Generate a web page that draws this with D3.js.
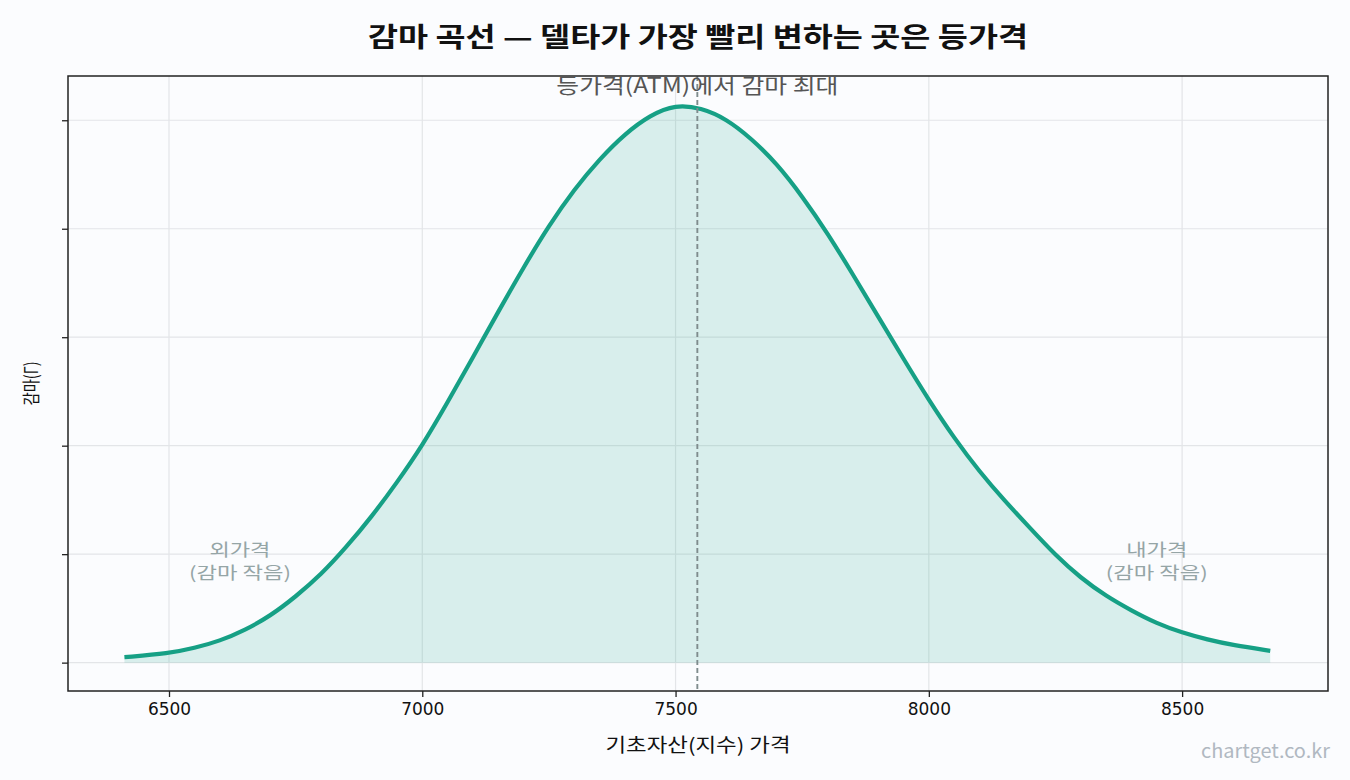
<!DOCTYPE html>
<html>
<head>
<meta charset="utf-8">
<script src="https://cdn.jsdelivr.net/npm/d3@7"></script>
<style>
  body { margin: 0; background: #fbfcfe; }
  svg { display: block; font-family: "Noto Sans CJK KR", "DejaVu Sans", sans-serif; }
</style>
</head>
<body>
<div id="chart"></div>
<script>
// underlying index price
const spotPrices = [6412, 6500, 6550, 6600, 6650, 6700, 6750, 6800, 6850, 6900, 6950,
  7000, 7050, 7100, 7150, 7200, 7250, 7300, 7350, 7400, 7450, 7500, 7550, 7600, 7650,
  7700, 7750, 7800, 7850, 7900, 7950, 8000, 8050, 8100, 8150, 8200, 8250, 8300, 8350,
  8400, 8450, 8500, 8550, 8600, 8674];
// gamma (arbitrary units, the source hides the y tick labels)
const gammaValues = [0.05, 0.085, 0.134, 0.199, 0.30, 0.43, 0.608, 0.81, 1.064, 1.345, 1.66,
  2.0, 2.40, 2.815, 3.235, 3.645, 4.03, 4.364, 4.643, 4.876, 5.049, 5.145, 5.115, 5.014, 4.83,
  4.60, 4.30, 3.96, 3.58, 3.19, 2.80, 2.42, 2.07, 1.76, 1.49, 1.24, 0.99, 0.78, 0.613,
  0.48, 0.361, 0.276, 0.212, 0.161, 0.109];
const strike = 7543;
const xTicks = [6500, 7000, 7500, 8000, 8500];
const yTicks = [0, 1, 2, 3, 4, 5];

const width = 1350, height = 780;
const margin = { top: 76, right: 22, bottom: 89, left: 68 };
const plotW = width - margin.left - margin.right;
const plotH = height - margin.top - margin.bottom;

const data = spotPrices.map((s, i) => ({ s, g: gammaValues[i] }));

const svg = d3.select("#chart")
  .append("svg")
  .attr("width", width)
  .attr("height", height);

svg.append("rect")
  .attr("width", width)
  .attr("height", height)
  .attr("fill", "#fbfcfe");

const x = d3.scaleLinear().domain([6300.6, 8788]).range([0, plotW]);
const y = d3.scaleLinear().domain([-0.2615, 5.408]).range([plotH, 0]);

const g = svg.append("g")
  .attr("transform", `translate(${margin.left},${margin.top})`);

// gridlines
g.append("g")
  .selectAll("line")
  .data(xTicks)
  .join("line")
  .attr("x1", (d) => x(d))
  .attr("x2", (d) => x(d))
  .attr("y1", 0)
  .attr("y2", plotH)
  .attr("stroke", "#e3e5e8")
  .attr("stroke-width", 1.2);

g.append("g")
  .selectAll("line")
  .data(yTicks)
  .join("line")
  .attr("x1", 0)
  .attr("x2", plotW)
  .attr("y1", (d) => y(d))
  .attr("y2", (d) => y(d))
  .attr("stroke", "#e3e5e8")
  .attr("stroke-width", 1.2);

// area + line (basis spline smooths the hand-read points)
const area = d3.area()
  .x((d) => x(d.s))
  .y0(y(0))
  .y1((d) => y(d.g))
  .curve(d3.curveBasis);

const line = d3.line()
  .x((d) => x(d.s))
  .y((d) => y(d.g))
  .curve(d3.curveBasis);

g.append("path")
  .datum(data)
  .attr("d", area)
  .attr("fill", "#16a085")
  .attr("fill-opacity", 0.15);

g.append("path")
  .datum(data)
  .attr("d", line)
  .attr("fill", "none")
  .attr("stroke", "#16a085")
  .attr("stroke-width", 4.2)
  .attr("stroke-linejoin", "round");

// strike line
g.append("line")
  .attr("x1", x(strike))
  .attr("x2", x(strike))
  .attr("y1", 0)
  .attr("y2", plotH)
  .attr("stroke", "#7f8c8d")
  .attr("stroke-width", 1.9)
  .attr("stroke-dasharray", "5,3");

// axes
const xAxis = d3.axisBottom(x)
  .tickValues(xTicks)
  .tickFormat(d3.format("d"))
  .tickSize(6)
  .tickPadding(6);
const yAxis = d3.axisLeft(y).tickValues(yTicks).tickSize(6).tickFormat("");

const gx = g.append("g")
  .attr("transform", `translate(0,${plotH})`)
  .call(xAxis);
gx.select(".domain").remove();
gx.selectAll("line").attr("stroke", "#222").attr("stroke-width", 1.3);
gx.selectAll("text")
  .attr("fill", "#111")
  .style("font-family", "'DejaVu Sans', sans-serif")
  .style("font-size", "17px");

const gy = g.append("g").call(yAxis);
gy.select(".domain").remove();
gy.selectAll("line").attr("stroke", "#222").attr("stroke-width", 1.3);

// frame
g.append("rect")
  .attr("width", plotW)
  .attr("height", plotH)
  .attr("fill", "none")
  .attr("stroke", "#222")
  .attr("stroke-width", 1.5);

// annotations
g.append("text")
  .attr("x", x(strike))
  .attr("y", 17)
  .attr("text-anchor", "middle")
  .attr("fill", "#555")
  .attr("textLength", 282)
  .attr("lengthAdjust", "spacingAndGlyphs")
  .style("font-size", "21px")
  .text("등가격(ATM)에서 감마 최대");

const sideNotes = [
  { s: 6640, label: ["외가격", "(감마 작음)"], w: [61, 102] },
  { s: 8450, label: ["내가격", "(감마 작음)"], w: [61, 102] },
];

g.selectAll(".sideNote")
  .data(sideNotes)
  .join("text")
  .attr("class", "sideNote")
  .attr("text-anchor", "middle")
  .attr("fill", "#95a5a6")
  .style("font-size", "17px")
  .each(function (d) {
    d3.select(this)
      .selectAll("tspan")
      .data(d.label)
      .join("tspan")
      .attr("x", x(d.s))
      .attr("y", (t, i) => 480 + i * 23)
      .attr("textLength", (t, i) => d.w[i])
      .attr("lengthAdjust", "spacingAndGlyphs")
      .text((t) => t);
  });

// title & labels
svg.append("text")
  .attr("x", margin.left + plotW / 2)
  .attr("y", 47)
  .attr("text-anchor", "middle")
  .attr("fill", "#111")
  .attr("textLength", 660)
  .attr("lengthAdjust", "spacingAndGlyphs")
  .style("font-size", "27px")
  .style("font-weight", "bold")
  .text("감마 곡선 — 델타가 가장 빨리 변하는 곳은 등가격");

svg.append("text")
  .attr("x", margin.left + plotW / 2)
  .attr("y", 752)
  .attr("text-anchor", "middle")
  .attr("fill", "#111")
  .attr("textLength", 185)
  .attr("lengthAdjust", "spacingAndGlyphs")
  .style("font-size", "19px")
  .text("기초자산(지수) 가격");

svg.append("text")
  .attr("transform", `translate(38,${margin.top + plotH / 2}) rotate(-90)`)
  .attr("text-anchor", "middle")
  .attr("fill", "#111")
  .attr("textLength", 44)
  .attr("lengthAdjust", "spacingAndGlyphs")
  .style("font-size", "18px")
  .text("감마(Γ)");

svg.append("text")
  .attr("x", 1330)
  .attr("y", 758)
  .attr("text-anchor", "end")
  .attr("fill", "#b0b8c1")
  .attr("textLength", 129)
  .attr("lengthAdjust", "spacingAndGlyphs")
  .style("font-size", "19px")
  .text("chartget.co.kr");
</script>
</body>
</html>
